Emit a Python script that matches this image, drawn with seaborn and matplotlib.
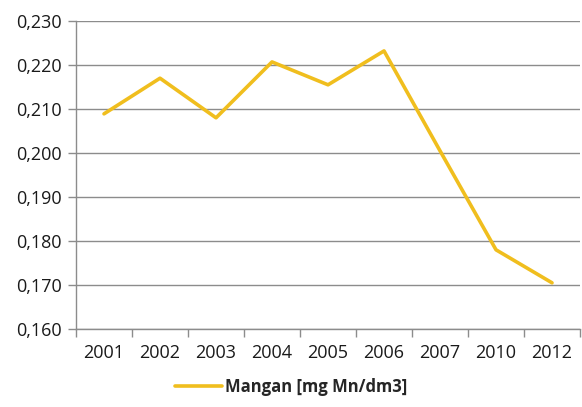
import numpy as np
import pandas as pd
import matplotlib
matplotlib.use("Agg")
import matplotlib.pyplot as plt
from matplotlib.ticker import FixedLocator, FuncFormatter
import seaborn as sns

years = ["2001", "2002", "2003", "2004", "2005", "2006", "2007", "2010", "2012"]
mangan = [0.2089, 0.2170, 0.2080, 0.2207, 0.2155, 0.2232, 0.2005, 0.1780, 0.1705]
y_ticks = [0.160, 0.170, 0.180, 0.190, 0.200, 0.210, 0.220, 0.230]
series_name = "Mangan [mg Mn/dm3]"

LINE_COLOR = "#F0BE1E"
GRID_COLOR = "#8C8C8C"


def main():
    sns.set_theme(style="white")
    plt.rcParams["font.family"] = ["Open Sans", "DejaVu Sans"]

    df = pd.DataFrame({"pos": np.arange(len(years)), "value": mangan})

    fig = plt.figure(figsize=(5.82, 4.07), dpi=100)
    ax = fig.add_axes([0.1306, 0.1916, 0.866, 0.7568])

    sns.lineplot(data=df, x="pos", y="value", ax=ax, color=LINE_COLOR,
                 linewidth=2.6, label=series_name, legend=False)

    ax.set_xlim(-0.5, len(years) - 0.5)
    ax.set_ylim(y_ticks[0], y_ticks[-1])
    ax.set_yticks(y_ticks)
    ax.yaxis.set_major_formatter(FuncFormatter(lambda v, p: f"{v:.3f}".replace(".", ",")))
    ax.set_xticks(np.arange(len(years)))
    ax.set_xticklabels(years)
    ax.xaxis.set_minor_locator(FixedLocator(np.arange(-0.5, len(years), 1.0)))

    ax.grid(axis="y", color=GRID_COLOR, linewidth=1.0)
    ax.set_axisbelow(True)
    for side in ["top", "right"]:
        ax.spines[side].set_visible(False)
    for side in ["left", "bottom"]:
        ax.spines[side].set_color(GRID_COLOR)
        ax.spines[side].set_linewidth(1.0)

    ax.tick_params(axis="x", which="major", length=0, pad=11, labelsize=13, colors="#1a1a1a")
    ax.tick_params(axis="x", which="minor", bottom=True, length=6, color=GRID_COLOR, width=1.0)
    ax.tick_params(axis="y", which="major", left=True, length=6, color=GRID_COLOR,
                   width=1.0, pad=4, labelsize=13, labelcolor="#1a1a1a")
    ax.set_xlabel("")
    ax.set_ylabel("")

    handles, labels = ax.get_legend_handles_labels()
    fig.legend(handles, labels, loc="lower center", bbox_to_anchor=(0.5, -0.01),
               frameon=False, handlelength=2.8, handletextpad=0.2,
               prop={"weight": "bold", "size": 12})

    fig.savefig("out.png", dpi=100)
    plt.close(fig)


if __name__ == "__main__":
    main()
